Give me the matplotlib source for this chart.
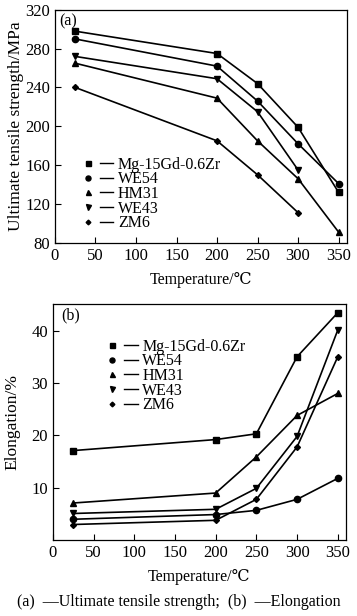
import matplotlib
matplotlib.use('Agg')
import matplotlib.pyplot as plt
from matplotlib.lines import Line2D
from matplotlib.legend_handler import HandlerTuple

plt.rcParams['font.family'] = ['Liberation Serif', 'DejaVu Serif', 'DejaVu Sans']

# ── Data ─────────────────────────────────────────────────────────────────────
alloys = ['Mg-15Gd-0.6Zr', 'WE54', 'HM31', 'WE43', 'ZM6']
markers = ['s', 'o', '^', 'v', 'D']
msizes = [4.5, 4.5, 4.5, 4.5, 3]

# (a) ultimate tensile strength, MPa
uts_temp = [
    [25, 200, 250, 300, 350],
    [25, 200, 250, 300, 350],
    [25, 200, 250, 300, 350],
    [25, 200, 250, 300],
    [25, 200, 250, 300],
]
uts = [
    [298, 275, 244, 199, 132],
    [290, 262, 226, 182, 141],
    [265, 229, 185, 146, 91],
    [272, 249, 215, 155],
    [240, 185, 150, 111],
]

# (b) elongation, %
elong_temp = [25, 200, 250, 300, 350]
elong = [
    [17.1, 19.2, 20.3, 35.0, 43.4],
    [4.0, 4.9, 5.7, 7.8, 11.8],
    [7.1, 9.0, 15.9, 23.8, 28.0],
    [5.1, 5.9, 9.9, 19.8, 40.1],
    [3.0, 3.8, 7.8, 17.8, 35.0],
]

xticks = [0, 50, 100, 150, 200, 250, 300, 350]

fig = plt.figure(figsize=(3.57, 6.16), dpi=100)
ax1 = fig.add_axes([0.154, 0.606, 0.817, 0.378])
ax2 = fig.add_axes([0.148, 0.123, 0.821, 0.383])


def legend_handles():
    hs = []
    for m, ms in zip(markers, msizes):
        mk = Line2D([], [], marker=m, ms=ms * 0.8, color='black', linestyle='none')
        ln = Line2D([], [], color='black', lw=1.0)
        hs.append((mk, ln))
    return hs


def style(ax, anchor):
    ax.set_xlim(0, 360)
    ax.set_xticks(xticks)
    ax.tick_params(direction='in', length=4, width=0.8, labelsize=12, top=False, right=False)
    for s in ax.spines.values():
        s.set_linewidth(0.9)
    ax.legend(legend_handles(), alloys,
              handler_map={tuple: HandlerTuple(ndivide=None, pad=0.3)},
              frameon=False, fontsize=11.5, handlelength=2.0, handletextpad=0.3,
              labelspacing=-0.08, borderpad=0.0, borderaxespad=0.0,
              loc='upper left', bbox_to_anchor=anchor)


# ── (a) ──
for t, v, m, ms in zip(uts_temp, uts, markers, msizes):
    ax1.plot(t, v, color='black', lw=1.2, marker=m, ms=ms)
ax1.set_ylim(80, 320)
ax1.set_yticks(range(80, 321, 40))
style(ax1, (0.09, 0.37))
ax1.set_ylabel('Ultimate tensile strength/MPa', fontsize=12.5, labelpad=1)
ax1.set_xlabel('Temperature/℃', fontsize=11.5, labelpad=6)
ax1.text(0.015, 0.985, '(a)', transform=ax1.transAxes, fontsize=11.5, va='top', ha='left')

# ── (b) ──
for v, m, ms in zip(elong, markers, msizes):
    ax2.plot(elong_temp, v, color='black', lw=1.2, marker=m, ms=ms)
ax2.set_ylim(0, 45)
ax2.set_yticks([10, 20, 30, 40])
style(ax2, (0.18, 0.855))
ax2.set_ylabel('Elongation/%', fontsize=12.5, labelpad=8)
ax2.set_xlabel('Temperature/℃', fontsize=11.5, labelpad=6)
ax2.text(0.03, 0.985, '(b)', transform=ax2.transAxes, fontsize=11.5, va='top', ha='left')

fig.text(0.5, 0.022, '(a)  —Ultimate tensile strength;  (b)  —Elongation',
         ha='center', va='center', fontsize=11.5)

fig.savefig('out.png', dpi=100)
